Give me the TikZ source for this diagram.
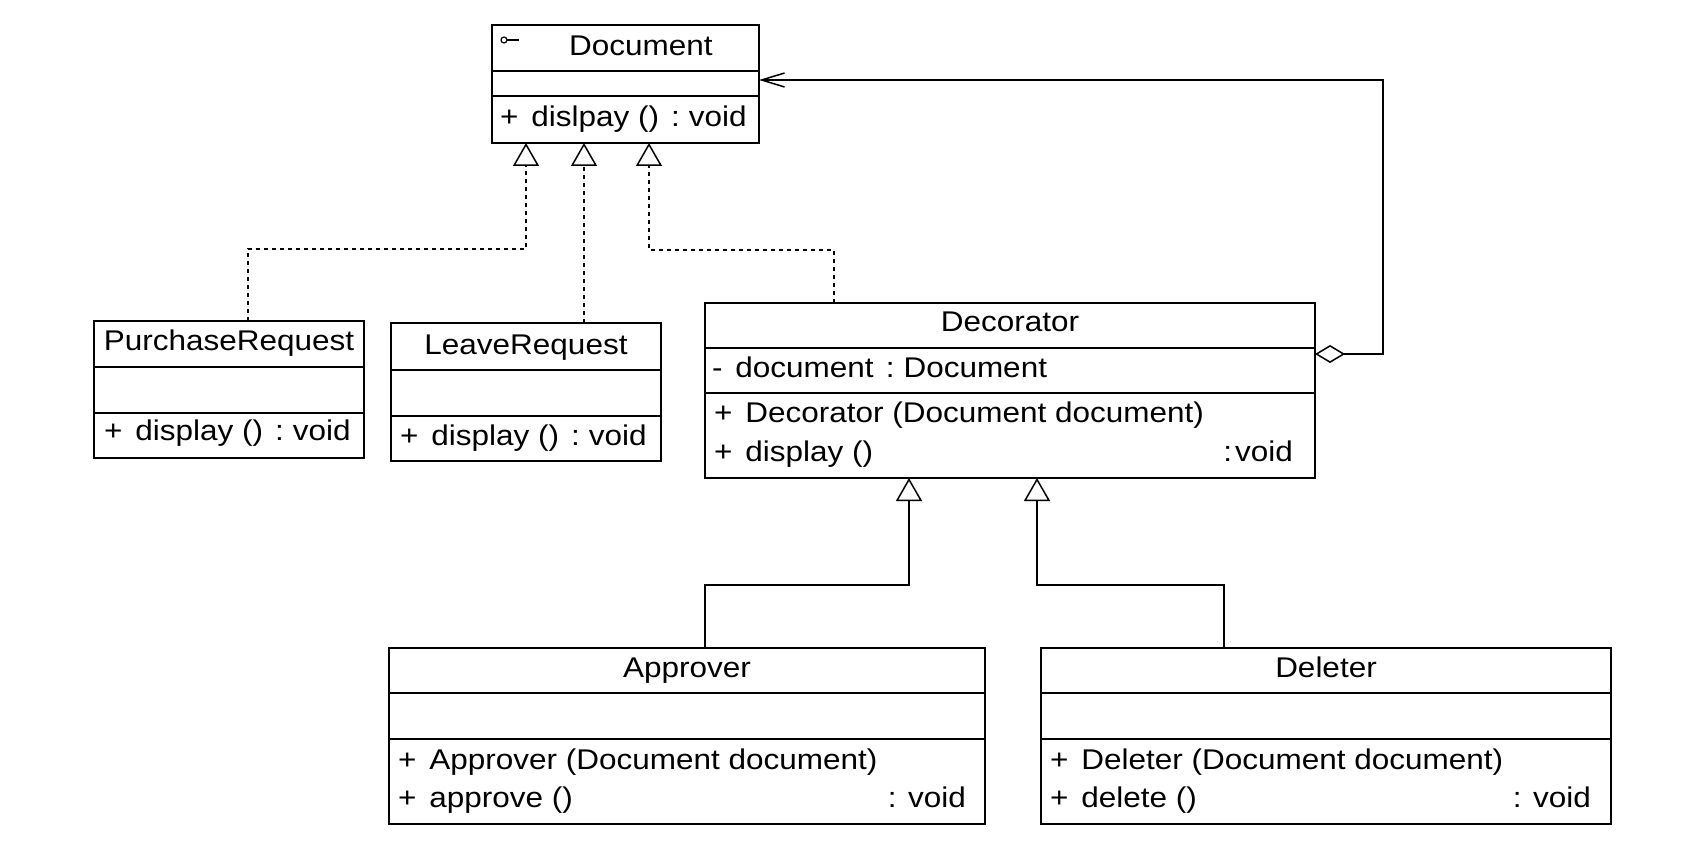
\documentclass[tikz,border=0pt]{standalone}
\usepackage{fontspec}
\setmainfont{Liberation Sans}[FakeStretch=1.105]
\usetikzlibrary{arrows.meta}
\newcommand{\pgapa}{\hspace{13pt}}
\newcommand{\pgapb}{\hspace{12pt}}
\newcommand{\pgapc}{\hspace{9pt}}
\begin{document}
\begin{tikzpicture}[x=1pt,y=-1pt,
  box/.style={draw, line width=1.5pt, rectangle, inner sep=0pt, outer sep=0pt},
  lbl/.style={inner sep=0pt, outer sep=0pt, font=\fontsize{28.5pt}{34pt}\selectfont},
  ttl/.style={lbl, anchor=base},
  mem/.style={lbl, anchor=base west},
  typ/.style={lbl, anchor=base east},
  div/.style={line width=1.5pt},
  conn/.style={line width=1.5pt},
  realize/.style={conn, dash pattern=on 4pt off 4pt, -{Triangle[open, length=23pt, width=26pt]}},
  inherit/.style={conn, -{Triangle[open, length=23pt, width=26pt]}},
  aggr/.style={conn, {Diamond[open, length=30pt, width=18pt]}-{Straight Barb[length=23pt, width=14pt]}}
]
\fill[white] (0,0) rectangle (1690,866);
\useasboundingbox (0,0) rectangle (1690,866);

% Document
\node[box, minimum width=267pt, minimum height=118pt] (doc) at (625.5,84) {};
\draw[div] (doc.west |- 0,71) -- (doc.east |- 0,71);
\draw[div] (doc.west |- 0,96) -- (doc.east |- 0,96);
\draw[line width=1.2pt] (504,40) circle[radius=3pt];
\draw[line width=1.2pt] (507,40) -- (519,40);
\node[ttl] (doc-name) at (641,56) {Document};
\node[mem] (doc-op) at (500,127) {+\pgapa dislpay ()\pgapb:\pgapc void};

% PurchaseRequest
\node[box, minimum width=270pt, minimum height=137pt] (pr) at (229,389.5) {};
\draw[div] (pr.west |- 0,367) -- (pr.east |- 0,367);
\draw[div] (pr.west |- 0,413) -- (pr.east |- 0,413);
\node[ttl] (pr-name) at (229,351) {PurchaseRequest};
\node[mem] (pr-op) at (104,441) {+\pgapa display ()\pgapb:\pgapc void};

% LeaveRequest
\node[box, minimum width=270pt, minimum height=138pt] (lr) at (526,392) {};
\draw[div] (lr.west |- 0,370) -- (lr.east |- 0,370);
\draw[div] (lr.west |- 0,416) -- (lr.east |- 0,416);
\node[ttl] (lr-name) at (526,355) {LeaveRequest};
\node[mem] (lr-op) at (400,445.5) {+\pgapa display ()\pgapb:\pgapc void};

% Decorator
\node[box, minimum width=610pt, minimum height=175pt] (dec) at (1010,390.5) {};
\draw[div] (dec.west |- 0,348) -- (dec.east |- 0,348);
\draw[div] (dec.west |- 0,393) -- (dec.east |- 0,393);
\node[ttl] (dec-name) at (1010,332) {Decorator};
\node[mem] (dec-attr) at (712,377.5) {-\pgapa document\pgapb:\pgapc Document};
\node[mem] (dec-op1) at (714,423) {+\pgapa Decorator (Document document)};
\node[mem] (dec-op2) at (714,461.5) {+\pgapa display ()};
\node[typ] (dec-t2) at (1293,461.5) {:\hspace{3pt}void};

% Approver
\node[box, minimum width=596pt, minimum height=176pt] (ap) at (687,736) {};
\draw[div] (ap.west |- 0,693) -- (ap.east |- 0,693);
\draw[div] (ap.west |- 0,739) -- (ap.east |- 0,739);
\node[ttl] (ap-name) at (687,677) {Approver};
\node[mem] (ap-op1) at (398,769) {+\pgapa Approver (Document document)};
\node[mem] (ap-op2) at (398,807.5) {+\pgapa approve ()};
\node[typ] (ap-t2) at (966,807.5) {: void};

% Deleter
\node[box, minimum width=570pt, minimum height=176pt] (del) at (1326,736) {};
\draw[div] (del.west |- 0,693) -- (del.east |- 0,693);
\draw[div] (del.west |- 0,739) -- (del.east |- 0,739);
\node[ttl] (del-name) at (1326,677) {Deleter};
\node[mem] (del-op1) at (1050,769) {+\pgapa Deleter (Document document)};
\node[mem] (del-op2) at (1050,807.5) {+\pgapa delete ()};
\node[typ] (del-t2) at (1591,807.5) {: void};

% connectors
\draw[realize] ([xshift=19pt]pr.north) -- ++(0,-72) -| ([xshift=-99.5pt]doc.south);
\draw[realize] ([xshift=58pt]lr.north) -- ([xshift=-41.5pt]doc.south);
\draw[realize] ([xshift=-176pt]dec.north) -- ++(0,-53) -| ([xshift=23.5pt]doc.south);
\draw[inherit] ([xshift=18pt]ap.north) -- ++(0,-63) -| ([xshift=-101pt]dec.south);
\draw[inherit] ([xshift=-102pt]del.north) -- ++(0,-63) -| ([xshift=27pt]dec.south);
\draw[aggr] ([yshift=36.5pt]dec.east) -- ++(68,0) |- ([yshift=4pt]doc.east);
\end{tikzpicture}
\end{document}
